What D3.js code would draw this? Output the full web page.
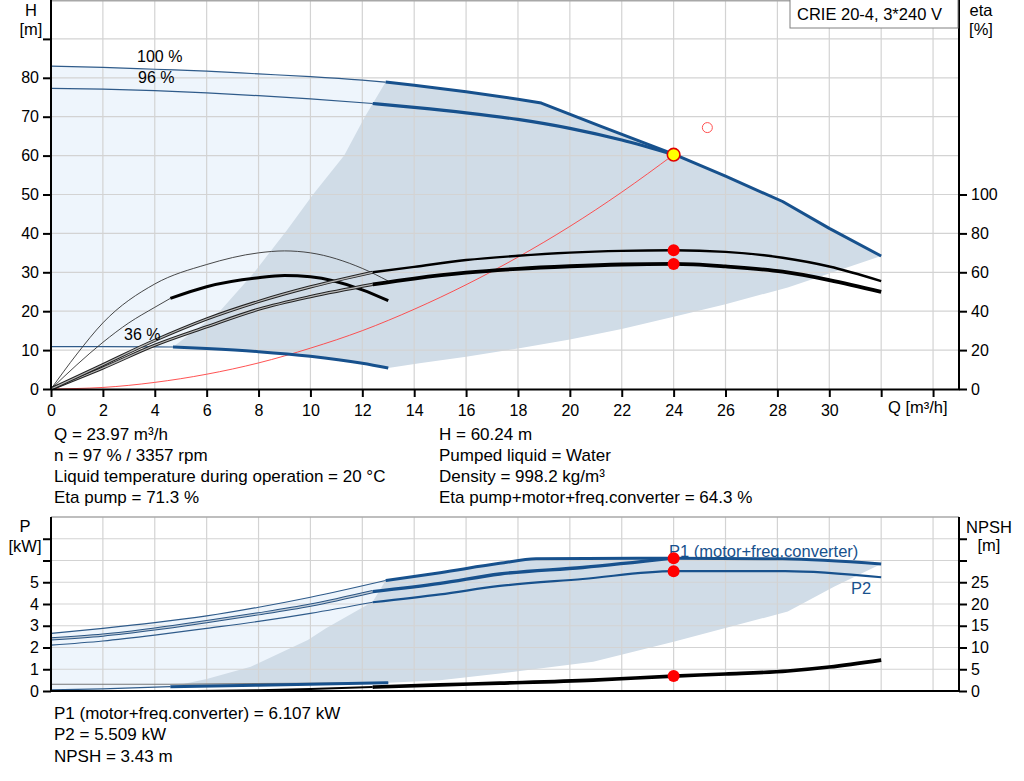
<!DOCTYPE html>
<html>
<head>
<meta charset="utf-8">
<script src="https://cdn.jsdelivr.net/npm/d3@7"></script>
<style>
  html, body { margin: 0; padding: 0; background: #fff; }
  svg { display: block; }
  text { font-family: "Liberation Sans", Arial, sans-serif; }
</style>
</head>
<body>
<svg id="chart" width="1024" height="781"></svg>
<script>
// ---------------- DATA ----------------
const qTicks = [0,2,4,6,8,10,12,14,16,18,20,22,24,26,28,30,32,34];
const qTickLabels = [0,2,4,6,8,10,12,14,16,18,20,22,24,26,28,30];
const hTicks = [0,10,20,30,40,50,60,70,80,90];
const hTickLabels = [0,10,20,30,40,50,60,70,80];
const etaTicks = [0,20,40,60,80,100];
const pTicks = [0,1,2,3,4,5,6,7];
const pTickLabels = [0,1,2,3,4,5];
const npshTicks = [0,5,10,15,20,25,30,35];
const npshTickLabels = [0,5,10,15,20,25];

// H curves [Q, H]
const h100Thin  = [[0,83],[2,82.7],[4,82.2],[6,81.7],[8,81],[10,80.3],[12,79.4],[12.9,78.9]];
const h100Thick = [[12.9,78.9],[14,78.1],[16,76.4],[18,74.5],[18.9,73.5],[21.2,67.5],[24,60.4],[26,54.7],[28.2,48.2],[30,41.3],[32,34.2]];
const h96Thin   = [[0,77.3],[2,77.1],[4,76.7],[6,76.1],[8,75.4],[10,74.6],[12.4,73.4]];
const h96Thick  = [[12.4,73.4],[14,72.4],[16,71],[18,69.3],[20,67],[22,64],[24,60.24]];
const h36Thin   = [[0,10.9],[2,10.9],[4,10.85],[4.7,10.8]];
const h36Thick  = [[4.7,10.8],[6,10.4],[8,9.6],[10,8.4],[12,6.6],[13,5.4]];
const hAreaLeft   = [[4.7,10.8],[6.5,19.9],[7.8,29.7],[9.1,40.9],[10.1,50],[11.3,60],[12.1,70],[12.9,78.9]];
const hAreaBottom = [[13,5.4],[14.2,6.6],[16,8.3],[18,10.4],[20,12.7],[22,15.4],[24,18.6],[26,21.8],[28.4,26.1],[32,34.2]];
const systemCurve = [[0,0],[2,0.4],[4,1.7],[6,3.8],[8,6.7],[10,10.5],[12,15],[14,20.5],[16,26.8],[18,33.9],[20,41.8],[22,50.6],[24,60.24]];
const dutyPoint = [24, 60.24];
const requestedPoint = [25.3, 67.2];

// eta curves [Q, eta %]
const etaPumpMin      = [[0,0],[1,18],[2,34],[4,54],[6,64],[8,70],[9,71],[10,70],[12,62],[13,55.5]];
const etaTotMinThin   = [[0,0],[1,12.5],[2,24],[3,34],[4,42],[4.6,46.6]];
const etaTotMinThick  = [[4.6,46.6],[6,52.6],[8,57.2],[9,58.3],[10,57.7],[12,51],[13,45.4]];
const etaPumpThin     = [[0,0],[2,12.5],[4,25],[6,36],[8,45],[10,52.5],[12.4,60]];
const etaPumpThick    = [[12.4,60],[14,62.8],[16,66.3],[18,68.5],[20,70.1],[22,71],[24,71.3],[26,70.5],[28.2,67.5],[30,63],[32,55.5]];
const etaTotThin      = [[0,0],[2,10.8],[4,22.5],[6,32],[8,41],[10,47.5],[12.4,53.8]];
const etaTotThick     = [[12.4,53.8],[14,56.8],[16,59.8],[18,61.8],[20,63.1],[22,64],[24,64.3],[26,63],[28.2,60.3],[30,56],[32,49.9]];
const etaPoints = [[24,71.3],[24,64.3]];

// power curves [Q, P kW]
const p1MaxThin  = [[0,2.65],[2,2.88],[4,3.14],[6,3.45],[8,3.85],[10,4.31],[12.9,5.08]];
const p1MaxThick = [[12.9,5.08],[15,5.44],[17.3,5.87],[18.7,6.08],[24,6.107],[28.2,6.08],[32,5.84]];
const p1Thin     = [[0,2.4],[2,2.57],[4,2.85],[6,3.19],[8,3.55],[10,3.95],[12.4,4.57]];
const p1Thick    = [[12.4,4.57],[15,4.95],[17.3,5.38],[20.5,5.68],[24,6.107]];
const p2Thin     = [[0,2.11],[2,2.3],[4,2.57],[6,2.88],[8,3.2],[10,3.57],[12.4,4.08]];
const p2Thick    = [[12.4,4.08],[15,4.44],[17.3,4.83],[20.5,5.15],[24,5.509],[28.3,5.51],[32,5.23]];
const pMinTop    = [[0,0.31],[4.6,0.31],[13,0.38]];
const pMinThin   = [[0,0.05],[2,0.1],[4.6,0.2]];
const pMinThick  = [[4.6,0.2],[8,0.27],[13,0.38]];
const pAreaLeft   = [[4.6,0.2],[6,0.55],[7.7,1.12],[9.9,2.34],[10.6,2.88],[12.4,4.1],[12.9,5.08]];
const pAreaBottom = [[13,0.38],[15,0.5],[17.3,0.8],[20.9,1.35],[24,2.27],[28.4,3.65],[30.2,4.8],[32,5.84]];
const pPoints = [[24,6.107],[24,5.509]];

// NPSH [Q, m]
const npshThin  = [[5.6,0],[8,0.2],[10,0.45],[12.4,0.9]];
const npshThick = [[12.4,0.9],[15,1.4],[17.3,1.8],[20.9,2.5],[24,3.43],[26,3.9],[28.4,4.6],[30,5.5],[32,7.1]];
const npshPoint = [24,3.43];

// texts
const infoLeft  = ["Q = 23.97 m³/h","n = 97 % / 3357 rpm","Liquid temperature during operation = 20 °C","Eta pump = 71.3 %"];
const infoRight = ["H = 60.24 m","Pumped liquid = Water","Density = 998.2 kg/m³","Eta pump+motor+freq.converter = 64.3 %"];
const infoBottom = ["P1 (motor+freq.converter) = 6.107 kW","P2 = 5.509 kW","NPSH = 3.43 m"];
const legendText = "CRIE 20-4, 3*240 V";

// ---------------- DRAW ----------------
const svg = d3.select("#chart");
const FONT = 16;       // tick labels
const FONT_TXT = 17;   // info texts
const FONT_TTL = 16.5; // axis titles, legend
const BLUE = "#17518d";
const THINBLUE = "#2f5b8a";
const LIGHT = "#eef5fc";
const DARK = "#d0dce7";
const GRID = "#d3d3d3";

const x = d3.scaleLinear().domain([0,35]).range([51,959]);
const yH = d3.scaleLinear().domain([0,100]).range([389,0]);
const yEta = d3.scaleLinear().domain([0,200]).range([389,0]);
const yP = d3.scaleLinear().domain([0,8]).range([691,517]);
const yN = d3.scaleLinear().domain([0,40]).range([691,517]);

function lineGen(ys, curveType) {
  return d3.line().x(d => x(d[0])).y(d => ys(d[1])).curve(curveType || d3.curveMonotoneX);
}
function poly(g, pts, ys, fill) {
  g.append("path").attr("d", lineGen(ys, d3.curveLinear)(pts) + "Z").attr("fill", fill).attr("stroke", "none");
}
function curve(g, pts, ys, stroke, width, curveType) {
  g.append("path").attr("d", lineGen(ys, curveType)(pts))
    .attr("fill", "none").attr("stroke", stroke).attr("stroke-width", width)
    .attr("stroke-linejoin", "round").attr("stroke-linecap", "butt");
}
function doubleCurve(g, pts, ys, outer, inner) {
  curve(g, pts, ys, outer, 3.2);
  curve(g, pts, ys, inner, 1.2);
}
const rev = a => a.slice().reverse();
const lbl = (g, tx, ty, s, col, anchor, size) => g.append("text").attr("x", tx).attr("y", ty).attr("font-size", size || FONT_TXT)
  .attr("fill", col || "#000").attr("text-anchor", anchor || "start").text(s);

// ---------- upper chart ----------
const gTop = svg.append("g");
poly(gTop, h100Thin.concat(rev(h36Thick), rev(h36Thin)), yH, LIGHT);
poly(gTop, hAreaLeft.concat(h100Thick, rev(hAreaBottom), rev(h36Thick)), yH, DARK);
const gridT = gTop.append("g").attr("stroke", GRID).attr("stroke-width", 1.2);
qTicks.filter(q => q > 0).forEach(q => gridT.append("line").attr("x1", x(q)).attr("x2", x(q)).attr("y1", yH(100)).attr("y2", yH(0)));
hTicks.filter(h => h > 0).forEach(h => gridT.append("line").attr("x1", x(0)).attr("x2", x(35)).attr("y1", yH(h)).attr("y2", yH(h)));
gTop.append("line").attr("x1", x(0)).attr("x2", x(35)).attr("y1", 0.7).attr("y2", 0.7).attr("stroke", "#a8a8a8").attr("stroke-width", 1.4);

curve(gTop, systemCurve, yH, "#ff4040", 0.9);
curve(gTop, h100Thin, yH, THINBLUE, 1.2);
curve(gTop, h96Thin, yH, THINBLUE, 1.2);
curve(gTop, h36Thin, yH, THINBLUE, 1.2);
curve(gTop, h100Thick, yH, BLUE, 3, d3.curveLinear);
curve(gTop, h96Thick, yH, BLUE, 3.2);
curve(gTop, h36Thick, yH, BLUE, 3);
curve(gTop, etaPumpMin, yEta, "#333", 0.9);
curve(gTop, etaTotMinThin, yEta, "#333", 0.9);
curve(gTop, etaTotMinThick, yEta, "#000", 3);
doubleCurve(gTop, etaTotThin, yEta, "#222", "#b8b8b8");
doubleCurve(gTop, etaPumpThin, yEta, "#222", "#b8b8b8");
curve(gTop, etaPumpThick, yEta, "#000", 2.4);
curve(gTop, etaTotThick, yEta, "#000", 3.8);

lbl(gTop, 137, 62, "100 %", "#000", "start", FONT);
lbl(gTop, 138, 83, "96 %", "#000", "start", FONT);
lbl(gTop, 124, 340, "36 %", "#000", "start", FONT);

const axL = d3.axisLeft(yH).tickValues(hTicks).tickSize(8).tickPadding(4).tickSizeOuter(0)
  .tickFormat(d => hTickLabels.includes(d) ? d : "");
const gL = gTop.append("g").attr("transform", `translate(${x(0)},0)`).call(axL);
const axR = d3.axisRight(yEta).tickValues(etaTicks).tickSize(8).tickPadding(4).tickSizeOuter(0);
const gR = gTop.append("g").attr("transform", `translate(${x(35)},0)`).call(axR);
const axB = d3.axisBottom(x).tickValues(qTicks).tickSize(8).tickPadding(8).tickSizeOuter(0)
  .tickFormat(d => qTickLabels.includes(d) ? d : "");
const gB = gTop.append("g").attr("transform", `translate(0,${yH(0)})`).call(axB);
[gL, gR, gB].forEach(g => {
  g.selectAll("text").attr("font-size", FONT).attr("fill", "#000").attr("font-family", '"Liberation Sans", Arial, sans-serif');
  g.selectAll("line").attr("stroke", "#000").attr("stroke-width", 2);
  g.select(".domain").attr("stroke", "#000").attr("stroke-width", 2);
});
gL.select(".domain").attr("d", `M0,${yH(100)}V${yH(0)}`);
gR.select(".domain").attr("d", `M0,${yH(100)}V${yH(0)}`);

lbl(gTop, 31, 16, "H", "#000", "middle", FONT_TTL);
lbl(gTop, 31, 35, "[m]", "#000", "middle", FONT_TTL);
lbl(gTop, 981, 16, "eta", "#000", "middle", FONT_TTL);
lbl(gTop, 981, 35, "[%]", "#000", "middle", FONT_TTL);
lbl(gTop, 888, 413, "Q [m³/h]", "#000", "start", FONT_TTL);

gTop.append("rect").attr("x", 790).attr("y", -1).attr("width", 168).attr("height", 29)
  .attr("fill", "#fff").attr("stroke", "#808080").attr("stroke-width", 1);
lbl(gTop, 797, 20, legendText, "#000", "start", FONT_TTL);

gTop.append("circle").attr("cx", x(requestedPoint[0])).attr("cy", yH(requestedPoint[1])).attr("r", 5)
  .attr("fill", "none").attr("stroke", "#ff5050").attr("stroke-width", 1);
etaPoints.forEach(p => gTop.append("circle").attr("cx", x(p[0])).attr("cy", yEta(p[1])).attr("r", 6).attr("fill", "#ff0000"));
gTop.append("circle").attr("cx", x(dutyPoint[0])).attr("cy", yH(dutyPoint[1])).attr("r", 6.3)
  .attr("fill", "#ffff00").attr("stroke", "#e00000").attr("stroke-width", 1.6);

infoLeft.forEach((s, i) => lbl(svg, 54, 439.5 + i * 21.3, s));
infoRight.forEach((s, i) => lbl(svg, 439, 439.5 + i * 21.3, s));

// ---------- lower chart ----------
const gBot = svg.append("g");
poly(gBot, p1MaxThin.concat(rev(pMinThick), rev(pMinThin)), yP, LIGHT);
poly(gBot, pAreaLeft.concat(p1MaxThick, rev(pAreaBottom), rev(pMinThick)), yP, DARK);
const gridB = gBot.append("g").attr("stroke", GRID).attr("stroke-width", 1.2);
qTicks.filter(q => q > 0).forEach(q => gridB.append("line").attr("x1", x(q)).attr("x2", x(q)).attr("y1", yP(8)).attr("y2", yP(0)));
pTicks.filter(p => p > 0).forEach(p => gridB.append("line").attr("x1", x(0)).attr("x2", x(35)).attr("y1", yP(p)).attr("y2", yP(p)));
gBot.append("line").attr("x1", x(0)).attr("x2", x(35)).attr("y1", yP(8)).attr("y2", yP(8)).attr("stroke", "#a8a8a8").attr("stroke-width", 1.4);

curve(gBot, pMinTop, yP, "#777", 1.2);
curve(gBot, pMinThin, yP, THINBLUE, 1.2);
curve(gBot, pMinThick, yP, BLUE, 3);
curve(gBot, p1MaxThin, yP, THINBLUE, 1.2);
doubleCurve(gBot, p1Thin, yP, "#2a5584", "#c0ccd8");
curve(gBot, p2Thin, yP, THINBLUE, 1.2);
curve(gBot, p1MaxThick, yP, BLUE, 3);
curve(gBot, p1Thick, yP, BLUE, 3.4);
curve(gBot, p2Thick, yP, BLUE, 2.2);
curve(gBot, npshThin, yN, "#000", 2);
curve(gBot, npshThick, yN, "#000", 3.6);

lbl(gBot, 669, 557, "P1 (motor+freq.converter)", BLUE, "start", FONT_TTL);
lbl(gBot, 851, 594, "P2", BLUE, "start", FONT_TTL);

const axPL = d3.axisLeft(yP).tickValues(pTicks).tickSize(8).tickPadding(4).tickSizeOuter(0)
  .tickFormat(d => pTickLabels.includes(d) ? d : "");
const gPL = gBot.append("g").attr("transform", `translate(${x(0)},0)`).call(axPL);
const axNR = d3.axisRight(yN).tickValues(npshTicks).tickSize(8).tickPadding(4).tickSizeOuter(0)
  .tickFormat(d => npshTickLabels.includes(d) ? d : "");
const gNR = gBot.append("g").attr("transform", `translate(${x(35)},0)`).call(axNR);
[gPL, gNR].forEach(g => {
  g.selectAll("text").attr("font-size", FONT).attr("fill", "#000").attr("font-family", '"Liberation Sans", Arial, sans-serif');
  g.selectAll("line").attr("stroke", "#000").attr("stroke-width", 2);
  g.select(".domain").attr("stroke", "#000").attr("stroke-width", 2).attr("d", `M0,${yP(8)}V${yP(0)}`);
});
gBot.append("line").attr("x1", x(0) - 1).attr("x2", x(35) + 1).attr("y1", yP(0)).attr("y2", yP(0)).attr("stroke", "#000").attr("stroke-width", 2);

lbl(gBot, 25, 532, "P", "#000", "middle", FONT_TTL);
lbl(gBot, 25, 552, "[kW]", "#000", "middle", FONT_TTL);
lbl(gBot, 989, 533, "NPSH", "#000", "middle", FONT_TTL);
lbl(gBot, 989, 551, "[m]", "#000", "middle", FONT_TTL);

pPoints.forEach(p => gBot.append("circle").attr("cx", x(p[0])).attr("cy", yP(p[1])).attr("r", 6).attr("fill", "#ff0000"));
gBot.append("circle").attr("cx", x(npshPoint[0])).attr("cy", yN(npshPoint[1])).attr("r", 6).attr("fill", "#ff0000");

infoBottom.forEach((s, i) => lbl(svg, 54, 718.5 + i * 21.5, s));
</script>
</body>
</html>
